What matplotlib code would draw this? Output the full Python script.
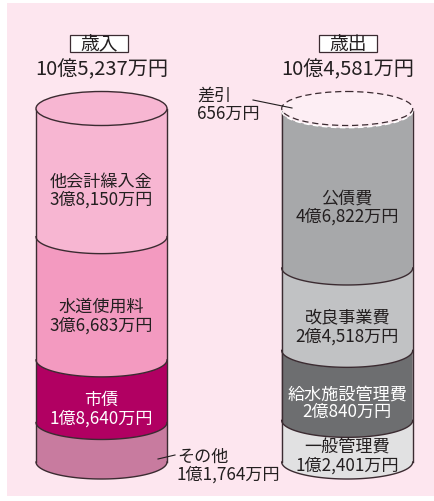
import numpy as np
import matplotlib.pyplot as plt
from matplotlib.patches import Polygon, Ellipse, Rectangle

plt.rcParams['font.family'] = ['Noto Sans CJK JP', 'DejaVu Sans']

# revenue (歳入), bottom to top, in 万円
rev_labels = ["その他", "市債", "水道使用料", "他会計繰入金"]
rev_values = [11764, 18640, 36683, 38150]
rev_texts = ["1億1,764万円", "1億8,640万円", "3億6,683万円", "3億8,150万円"]
rev_colors = ["#c87b9f", "#b10062", "#f39ac0", "#f7b6d2"]
rev_text_colors = ["#231f20", "white", "#231f20", "#231f20"]
rev_total = "10億5,237万円"

# expenditure (歳出), bottom to top, in 万円
exp_labels = ["一般管理費", "給水施設管理費", "改良事業費", "公債費"]
exp_values = [12401, 20840, 24518, 46822]
exp_texts = ["1億2,401万円", "2億840万円", "2億4,518万円", "4億6,822万円"]
exp_colors = ["#e1e1e2", "#6d6e70", "#c1c2c4", "#a7a8aa"]
exp_text_colors = ["#231f20", "white", "#231f20", "#231f20"]
exp_total = "10億4,581万円"
diff_value = 656
diff_text = "656万円"

W, H = 434, 502
fig = plt.figure(figsize=(W / 100, H / 100), dpi=100)
ax = fig.add_axes([0, 0, 1, 1])
ax.set_xlim(0, W)
ax.set_ylim(H, 0)
ax.axis("off")

ax.add_patch(Rectangle((7, 4), W - 7, 493, facecolor="#fde6ef", edgecolor="none", zorder=0))

TXT = "#231f20"
EDGE = "#3b2b31"
FS = 12.3
RX, RY = 65.5, 17.0
Y_TOP, Y_BOT = 109.5, 463.0
scale = (Y_BOT - Y_TOP) / sum(rev_values)


def lower_arc(xc, yc, reverse=False):
    t = np.linspace(np.pi, 0, 80)
    if reverse:
        t = t[::-1]
    return np.column_stack([xc + RX * np.cos(t), yc + RY * np.sin(t)])


def draw_stack(xc, values, colors, labels, texts, tcolors, y_start):
    y = Y_BOT
    bounds = []
    for v, c, lab, txt, tc in zip(values, colors, labels, texts, tcolors):
        y0 = y - v * scale
        pts = np.vstack([lower_arc(xc, y0), lower_arc(xc, y, reverse=True)])
        ax.add_patch(Polygon(pts, closed=True, facecolor=c, edgecolor="none", zorder=2))
        bounds.append((y0, y, c, lab, txt, tc))
        y = y0
    # side and bottom outlines
    ax.plot([xc - RX, xc - RX], [y_start, Y_BOT], color=EDGE, lw=1.0, zorder=4)
    ax.plot([xc + RX, xc + RX], [y_start, Y_BOT], color=EDGE, lw=1.0, zorder=4)
    arc = lower_arc(xc, Y_BOT)
    ax.plot(arc[:, 0], arc[:, 1], color=EDGE, lw=1.0, zorder=4)
    for y0, y1, c, lab, txt, tc in bounds[:-1]:
        arc = lower_arc(xc, y0)
        ax.plot(arc[:, 0], arc[:, 1], color=EDGE, lw=1.0, zorder=4)
    return bounds


def seg_text(xc, y0, y1, lab, txt, tc, off=17):
    ym = (y0 + y1) / 2 + off
    ax.text(xc, ym - 9, lab, ha="center", va="center", fontsize=FS, color=tc, zorder=6)
    ax.text(xc, ym + 9, txt, ha="center", va="center", fontsize=FS, color=tc, zorder=6)


# ---- revenue cylinder
XL = 101.5
rb = draw_stack(XL, rev_values, rev_colors, rev_labels, rev_texts, rev_text_colors, Y_TOP)
ax.add_patch(Ellipse((XL, Y_TOP), 2 * RX, 2 * RY, facecolor=rev_colors[-1],
                     edgecolor=EDGE, lw=1.0, zorder=5))
for y0, y1, c, lab, txt, tc in rb[1:]:
    seg_text(XL, y0, y1, lab, txt, tc)
# その他 label outside
ax.plot([158, 175], [460, 456], color=TXT, lw=0.8, zorder=6)
ax.text(177, 457, rev_labels[0], ha="left", va="center", fontsize=FS, color=TXT)
ax.text(177, 475, rev_texts[0], ha="left", va="center", fontsize=FS, color=TXT)

# ---- expenditure cylinder
XR = 347.2
y_gray = Y_BOT - sum(exp_values) * scale
eb = draw_stack(XR, exp_values, exp_colors, exp_labels, exp_texts, exp_text_colors, y_gray)
# 差引 band on top
band = np.vstack([lower_arc(XR, Y_TOP), lower_arc(XR, y_gray, reverse=True)])
ax.add_patch(Polygon(band, closed=True, facecolor="#fdeef4", edgecolor="none", zorder=3))
arc = lower_arc(XR, y_gray)
ax.plot(arc[:, 0], arc[:, 1], color="white", lw=1.0, ls=(0, (4, 2.5)), zorder=5)
ax.add_patch(Ellipse((XR, Y_TOP), 2 * RX, 2 * RY, facecolor="#fdeef4",
                     edgecolor=EDGE, lw=0.9, ls=(0, (5, 3)), zorder=5))
for y0, y1, c, lab, txt, tc in eb:
    seg_text(XR, y0, y1, lab, txt, tc, off=14 if lab == exp_labels[0] else 17)
# 差引 label
ax.plot([253, 292], [101, 109], color=TXT, lw=0.8, zorder=6)
ax.text(197, 96, "差引", ha="left", va="center", fontsize=FS, color=TXT)
ax.text(197, 114, diff_text, ha="left", va="center", fontsize=FS, color=TXT)

# ---- headers
for xc, title, total, bx in [(XL, "歳入", rev_total, 70), (XR, "歳出", exp_total, 319)]:
    ax.add_patch(Rectangle((bx, 36), 58, 17, facecolor="white", edgecolor=EDGE, lw=0.9, zorder=3))
    ax.text(bx + 29, 44.5, title, ha="center", va="center", fontsize=13.5, color=TXT, zorder=4)
    ax.text(xc, 70, total, ha="center", va="center", fontsize=14.5, color=TXT, zorder=4)

fig.savefig("out.png", dpi=100, facecolor="white")
